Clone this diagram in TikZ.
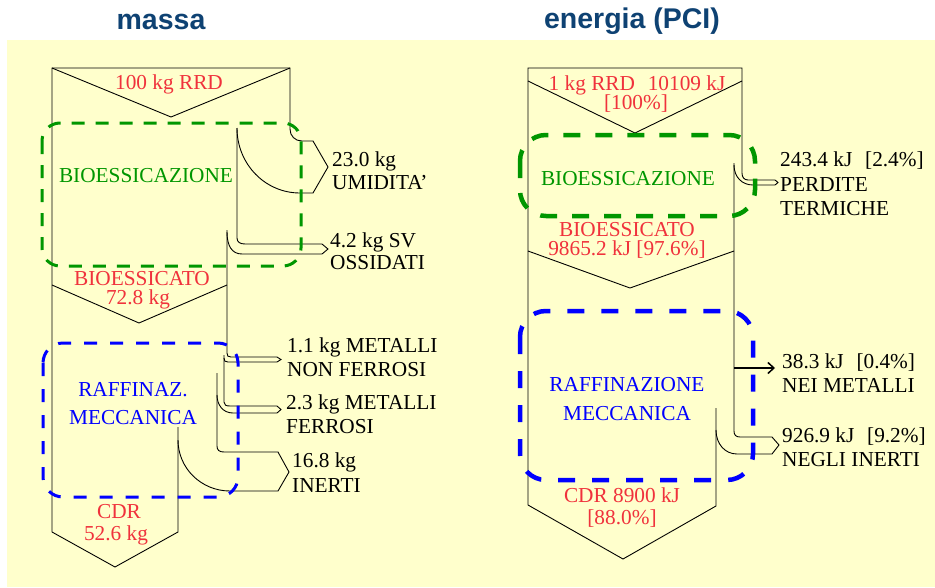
\documentclass[tikz,border=0pt]{standalone}
\usepackage{fontspec}
\setmainfont{Liberation Serif}
\newfontfamily\titlefont{Liberation Sans}
\usetikzlibrary{arrows.meta}
\definecolor{bgyel}{RGB}{255,255,204}
\definecolor{ttl}{RGB}{14,66,115}
\definecolor{rd}{RGB}{240,50,60}
\definecolor{gr}{RGB}{0,150,0}
\definecolor{bl}{RGB}{0,0,255}
\begin{document}
\begin{tikzpicture}[x=1pt,y=-1pt,
  outline/.style={draw=black, line width=0.9pt, line join=miter},
  lbl/.style={inner sep=0pt, font=\fontsize{21.3}{23}\selectfont},
  rlab/.style={lbl, text=rd, anchor=base},
  glab/.style={lbl, text=gr, anchor=base},
  blab/.style={lbl, text=bl, anchor=base},
  klab/.style={lbl, text=black, anchor=base west},
  ttlnode/.style={inner sep=0pt, anchor=base, text=ttl, font=\titlefont\bfseries\fontsize{28.5}{30}\selectfont},
  gbox/.style={draw=gr, line width=#1, rounded corners=18pt},
  bbox/.style={draw=bl, line width=#1, rounded corners=20pt}]
\useasboundingbox (0,0) rectangle (935,587);
\fill[bgyel] (7,40) rectangle (935,587);

% titles
\node[ttlnode] (t1) at (161,29) {massa};
\node[ttlnode] (t2) at (632,28) {energia (PCI)};

% ---------- left: massa ----------
\draw[outline] (52,532) -- (52,68) -- (290,68) -- (290,129) .. controls (290,136) and (295,141) .. (302,141) -- (313,141) -- (328,167) -- (313,193) -- (300,193) .. controls (265,193) and (237,164) .. (237,128);
\draw[outline] (52,68) -- (171,117) -- (290,68);
\draw[outline] (237,128) -- (237,238) .. controls (237,242) and (240,244) .. (245,244) -- (322,244) -- (328,249) -- (322,254) -- (242,254) .. controls (232,254) and (227,246) .. (227,232);
\draw[outline] (227,230) -- (227,353) .. controls (227,356) and (228,357) .. (231,357) -- (277,357) -- (281,359.5) -- (277,362) -- (228,362) .. controls (225,362) and (224,361) .. (224,358);
\draw[outline] (224,355) -- (224,402) .. controls (224,405) and (226,406) .. (230,406) -- (277,406) -- (281,409.5) -- (277,413) -- (233,413) .. controls (223,413) and (217,405) .. (217,395);
\draw[outline] (217,373) -- (217,446) .. controls (217,450) and (219,452) .. (224,452) -- (278,452) -- (289,472) -- (278,491) -- (230,491) .. controls (201,491) and (178,468) .. (178,440) -- (178,427);
\draw[outline] (178,440) -- (178,532) -- (115,567) -- (52,532);
\draw[outline] (52,285) -- (139,323) -- (227,285);

\draw[gbox=3pt, dash pattern=on 13pt off 11pt] (42,123) rectangle (301,266);
\draw[bbox=3pt, dash pattern=on 13pt off 13pt] (43,343) rectangle (238,497);

\node[rlab] (a1) at (169,89) {100 kg RRD};
\node[glab] (a2) at (146,182) {BIOESSICAZIONE};
\node[rlab] (a3) at (142,285) {BIOESSICATO};
\node[rlab] (a4) at (138,304) {72.8 kg};
\node[blab] (a5) at (133,396) {RAFFINAZ.};
\node[blab] (a6) at (133,424) {MECCANICA};
\node[rlab] (a7) at (119,518) {CDR};
\node[rlab] (a8) at (116,540) {52.6 kg};

\node[klab] (b1) at (332,166) {23.0 kg};
\node[klab] (b2) at (332,189) {UMIDITA'};
\node[klab] (b3) at (330,247) {4.2 kg SV};
\node[klab] (b4) at (330,269) {OSSIDATI};
\node[klab] (b5) at (287,352) {1.1 kg METALLI};
\node[klab] (b6) at (287,376) {NON FERROSI};
\node[klab] (b7) at (286,409) {2.3 kg METALLI};
\node[klab] (b8) at (286,433) {FERROSI};
\node[klab] (b9) at (292,467) {16.8 kg};
\node[klab] (b10) at (292,492) {INERTI};

% ---------- right: energia ----------
\draw[outline] (528,505) -- (528,68) -- (742,68) -- (742,173) .. controls (742,177) and (744,180) .. (748,180) -- (775,180) -- (778,182.5) -- (775,185) -- (753,185) .. controls (742,185) and (734,177) .. (734,165);
\draw[outline] (528,81) -- (635,133) -- (742,81);
\draw[outline] (734,163) -- (734,431) .. controls (734,435) and (736,437) .. (740,437) -- (772,437) -- (779,445) -- (772,454) -- (737,454) .. controls (725,454) and (716,444) .. (716,430);
\draw[outline] (716,408) -- (716,506) -- (623,559) -- (528,505);
\draw[outline] (528,251) -- (630,288) -- (734,251);
\coordinate (m0) at (734,368);
\coordinate (m1) at (775,368);
\draw[line width=1.5pt, -{Straight Barb[length=6pt,width=11pt]}] (m0) -- (m1);

\draw[draw=gr, line width=4.5pt, rounded corners=26pt, dash pattern=on 17pt off 15pt] (520,135) rectangle (755,216);
\draw[draw=bl, line width=4.5pt, rounded corners=26pt, dash pattern=on 17pt off 17pt] (520,311) rectangle (753,480);

\node[rlab] (c1) at (637,90) {1 kg RRD\hspace{0.6em}10109 kJ};
\node[rlab] (c2) at (636,109) {[100\%]};
\node[glab] (c3) at (628,185) {BIOESSICAZIONE};
\node[rlab] (c4) at (627,236) {BIOESSICATO};
\node[rlab] (c5) at (627,255) {9865.2 kJ [97.6\%]};
\node[blab] (c6) at (627,391) {RAFFINAZIONE};
\node[blab] (c7) at (627,420) {MECCANICA};
\node[rlab] (c8) at (622,502) {CDR 8900 kJ};
\node[rlab] (c9) at (622,524) {[88.0\%]};

\node[klab] (d1) at (780,166) {243.4 kJ\hspace{0.6em}[2.4\%]};
\node[klab] (d2) at (780,191) {PERDITE};
\node[klab] (d3) at (780,215) {TERMICHE};
\node[klab] (d4) at (782,368) {38.3 kJ\hspace{0.6em}[0.4\%]};
\node[klab] (d5) at (782,392) {NEI METALLI};
\node[klab] (d6) at (782,442) {926.9 kJ\hspace{0.6em}[9.2\%]};
\node[klab] (d7) at (782,466) {NEGLI INERTI};
\end{tikzpicture}
\end{document}
